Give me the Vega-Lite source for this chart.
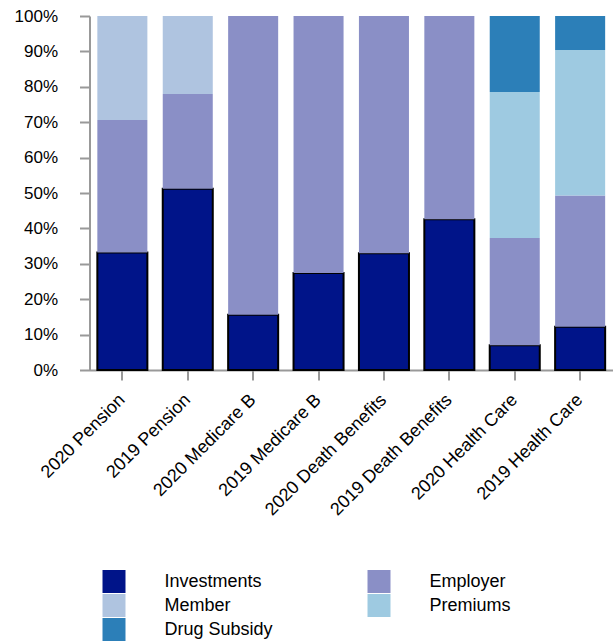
{
  "$schema": "https://vega.github.io/schema/vega-lite/v6.json",
  "autosize": "none",
  "padding": {"left": 89.5, "top": 16, "right": 0, "bottom": 271},
  "width": 523.5,
  "height": 354,
  "config": {
    "view": {"stroke": null},
    "font": "Liberation Sans, Arial, sans-serif",
    "axis": {"labelFont": "Liberation Sans, Arial, sans-serif", "labelFontSize": 17, "labelColor": "#000", "domainColor": "#999", "tickColor": "#999", "domainWidth": 2, "tickWidth": 2, "grid": false, "title": null, "labelLimit": 0},
    "legend": {"labelFont": "Liberation Sans, Arial, sans-serif", "labelFontSize": 18, "labelColor": "#000", "labelLimit": 0}
  },
  "data": {
    "values": [
      {"category": "2020 Pension", "source": "Investments", "value": 33.2},
      {"category": "2020 Pension", "source": "Employer", "value": 37.4},
      {"category": "2020 Pension", "source": "Member", "value": 29.4},
      {"category": "2019 Pension", "source": "Investments", "value": 51.2},
      {"category": "2019 Pension", "source": "Employer", "value": 26.8},
      {"category": "2019 Pension", "source": "Member", "value": 22.0},
      {"category": "2020 Medicare B", "source": "Investments", "value": 15.6},
      {"category": "2020 Medicare B", "source": "Employer", "value": 84.4},
      {"category": "2019 Medicare B", "source": "Investments", "value": 27.4},
      {"category": "2019 Medicare B", "source": "Employer", "value": 72.6},
      {"category": "2020 Death Benefits", "source": "Investments", "value": 33.0},
      {"category": "2020 Death Benefits", "source": "Employer", "value": 67.0},
      {"category": "2019 Death Benefits", "source": "Investments", "value": 42.6},
      {"category": "2019 Death Benefits", "source": "Employer", "value": 57.4},
      {"category": "2020 Health Care", "source": "Investments", "value": 7.0},
      {"category": "2020 Health Care", "source": "Employer", "value": 30.3},
      {"category": "2020 Health Care", "source": "Premiums", "value": 41.2},
      {"category": "2020 Health Care", "source": "Drug Subsidy", "value": 21.5},
      {"category": "2019 Health Care", "source": "Investments", "value": 12.2},
      {"category": "2019 Health Care", "source": "Employer", "value": 37.1},
      {"category": "2019 Health Care", "source": "Premiums", "value": 41.1},
      {"category": "2019 Health Care", "source": "Drug Subsidy", "value": 9.6}
    ]
  },
  "transform": [
    {"calculate": "indexof(['Investments', 'Employer', 'Member', 'Premiums', 'Drug Subsidy'], datum.source)", "as": "rank"}
  ],
  "mark": {"type": "bar", "strokeWidth": 2},
  "encoding": {
    "x": {
      "field": "category", "type": "nominal", "sort": null,
      "scale": {"paddingInner": 0.235, "paddingOuter": 0.12},
      "axis": {"labelAngle": -45, "labelAlign": "right", "labelBaseline": "middle", "tickSize": 10, "labelPadding": 17, "labelFontSize": 18}
    },
    "y": {
      "field": "value", "type": "quantitative", "stack": "normalize",
      "scale": {"domain": [0, 1], "nice": false},
      "axis": {"values": [0, 0.1, 0.2, 0.3, 0.4, 0.5, 0.6, 0.7, 0.8, 0.9, 1], "format": ".0%", "tickSize": 10, "labelPadding": 22}
    },
    "order": {"field": "rank", "type": "quantitative", "sort": "ascending"},
    "color": {
      "field": "source", "type": "nominal",
      "scale": {"domain": ["Investments", "Employer", "Member", "Premiums", "Drug Subsidy"], "range": ["#001489", "#8a8fc6", "#afc4e0", "#9ecae1", "#2c7fb8"]},
      "legend": {
        "title": null, "orient": "none", "legendX": 12, "legendY": 553, "columns": 2, "direction": "horizontal",
        "symbolType": "square", "symbolSize": 529, "symbolOpacity": 1, "labelOffset": 38,
        "columnPadding": 93, "rowPadding": 0, "padding": 0,
        "encode": {"symbols": {"update": {"stroke": {"signal": "datum.value === 'Investments' ? '#000' : 'transparent'"}, "strokeWidth": {"value": 2}}}}
      }
    },
    "stroke": {"condition": {"test": "datum.source === 'Investments'", "value": "#000"}, "value": null}
  }
}
